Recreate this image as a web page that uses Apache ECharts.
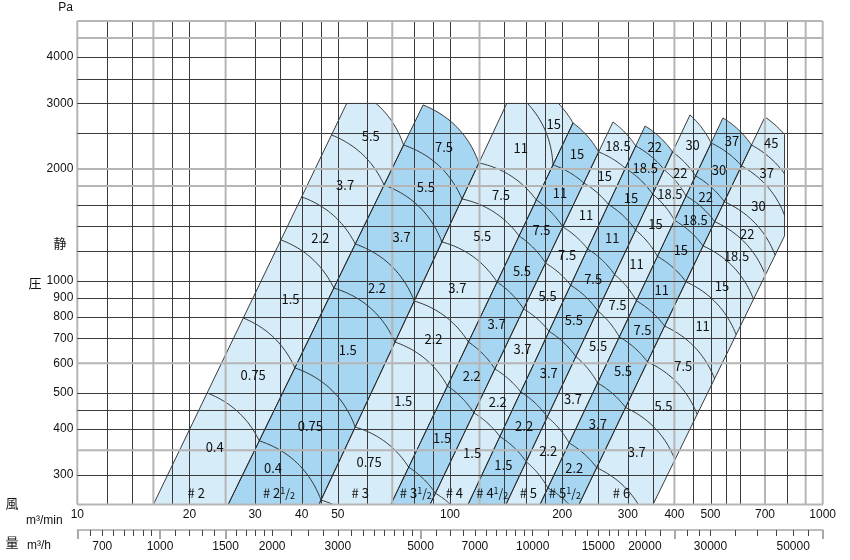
<!DOCTYPE html>
<html>
<head>
<meta charset="utf-8">
<script src="https://cdn.jsdelivr.net/npm/echarts@6.0.0/dist/echarts.min.js"></script>
<style>
html,body{margin:0;padding:0;background:#ffffff;}
#chart{width:850px;height:560px;}
</style>
</head>
<body>
<div id="chart"></div>
<script>
// ---------------- chart values ----------------
const flowLabels = [10, 20, 30, 40, 50, 100, 200, 300, 400, 500, 700, 1000];          // m3/min
const pressureLabels = [300, 400, 500, 600, 700, 800, 900, 1000, 2000, 3000, 4000];   // Pa
const hourLabels = [700, 1000, 1500, 2000, 3000, 5000, 7000, 10000, 15000, 20000, 30000, 50000]; // m3/h
const hourMinorTicks = [650,700,750,800,850,900,950,1100,1200,1300,1400,1600,1700,1800,1900,2000,
  2250,2500,2750,3000,3250,3500,3750,4000,4250,4500,4750,5500,6000,6500,7000,7500,8000,8500,9000,9500,
  10000,11000,12000,13000,14000,15000,16000,17000,18000,19000,20000,22000,26000,28000,30000,
  35000,40000,45000,50000,55000];
const hourMajorTicks = [600, 1000, 1500, 5000, 24000, 60000];
const gridFlow = [10,12,14,16,18,20,25,30,35,40,45,50,60,70,80,90,100,120,140,160,180,200,250,300,350,400,450,500,550,600,700,800,900,1000];
const gridFlowGray = [10,16,25,70,120,400,700,900,1000];
const gridPressure = [250,300,350,400,450,500,600,700,800,900,1000,1200,1400,1600,1800,2000,2500,3000,3500,4000,4500,5000];
const gridPressureGray = [250,350,600,1800,2000,4500,5000];

const fanNames = ['#2','#2½','#3','#3½','#4','#4½','#5','#5½','#6'];
const motorKW = [0.4,0.75,1.5,2.2,3.7,5.5,7.5,11,15,18.5,22,30,37,45];
const bandTopKW = [5.5,7.5,15,15,18.5,22,30,37,45];
const bandFirstKW = [0.4,0.4,0.75,1.5,1.5,1.5,2.2,2.2,3.7];

// slanted boundary lines between fan sizes: flow at 250 Pa and one upper point
const edgeBottomQ = [16.0,25.4,44.5,69.4,88.4,111.8,141.3,174.4,221.9,350.5];
const edgeTopQ = [52.9,84.7,142.2,213.8,273.7,333.7,440.6,540.1,700.1,792.2];
const edgeTopP = [3009,2972,3009,2657,2674,2608,2794,2743,2760,1328];

// pressure where each motor-kW boundary crosses each slanted line (index = motorKW)
const boundaryP = [
  [499,794,1288,1681,2468,3282],
  [371,583,956,1256,1810,2319,2972],
  [257,404,684,882,1272,1660,2075,3250,3492],
  [201,315,521,684,992,1320,1650,2050,2658],
  [null,268,441,579,840,1116,1396,1833,2221,2674],
  [null,231,381,502,731,973,1218,1605,2008,2305,2609],
  [null,null,326,430,625,831,1039,1369,1711,1990,2221,2793],
  [null,null,277,366,531,706,883,1163,1454,1691,1915,2348,2742],
  [null,null,239,314,456,605,755,994,1241,1442,1632,2038,2319,2759],
  [null,null,null,228,330,437,545,716,892,1036,1172,1387,1590,1755]
];
const pressureCap = 3000;
const flowCap = 790;

// ---------------- styles ----------------
const LIGHT = '#d6ecf9', DARK = '#a6d6f1', INK = '#262626';
const FONT_JP = '"Noto Sans CJK JP", "Noto Sans", sans-serif';
const FONT_AX = '"Liberation Sans", Arial, sans-serif';
const ARC_R = 90;
const P_MIN = 250;

// ---------------- geometry helpers (pixel space via api.coord) ----------------
function edgePt(api, k, P) {
  const lp0 = Math.log10(P_MIN), lp1 = Math.log10(edgeTopP[k]);
  const lq0 = Math.log10(edgeBottomQ[k]), lq1 = Math.log10(edgeTopQ[k]);
  const t = (Math.log10(P) - lp0) / (lp1 - lp0);
  return api.coord([Math.pow(10, lq0 + t * (lq1 - lq0)), P]);
}
function arcPts(A, B, n) {
  const dx = B[0] - A[0], dy = B[1] - A[1], L = Math.hypot(dx, dy);
  const h = 2 * (L * L / (8 * ARC_R));
  const nx = dy / L, ny = -dx / L;
  const C = [(A[0] + B[0]) / 2 + nx * h, (A[1] + B[1]) / 2 + ny * h];
  const pts = [];
  for (let i = 0; i <= n; i++) {
    const t = i / n, u = 1 - t;
    pts.push([u*u*A[0] + 2*u*t*C[0] + t*t*B[0], u*u*A[1] + 2*u*t*C[1] + t*t*B[1]]);
  }
  return pts;
}
function rectOf(api, floorP) {
  return {
    x1: api.coord([flowCap, 1000])[0],
    y0: api.coord([100, pressureCap])[1],
    y1: api.coord([100, floorP || P_MIN])[1]
  };
}
function planes(r) {
  return [
    {inside: p => p[0] <= r.x1, inter: (a, b) => { const t = (r.x1 - a[0]) / (b[0] - a[0]); return [r.x1, a[1] + t * (b[1] - a[1])]; }},
    {inside: p => p[1] >= r.y0, inter: (a, b) => { const t = (r.y0 - a[1]) / (b[1] - a[1]); return [a[0] + t * (b[0] - a[0]), r.y0]; }},
    {inside: p => p[1] <= r.y1, inter: (a, b) => { const t = (r.y1 - a[1]) / (b[1] - a[1]); return [a[0] + t * (b[0] - a[0]), r.y1]; }}
  ];
}
function clipPoly(pts, r) {
  let out = pts;
  for (const pl of planes(r)) {
    const inp = out; out = [];
    if (!inp.length) break;
    for (let i = 0; i < inp.length; i++) {
      const cur = inp[i], prev = inp[(i + inp.length - 1) % inp.length];
      const ci = pl.inside(cur), pi = pl.inside(prev);
      if (ci) { if (!pi) out.push(pl.inter(prev, cur)); out.push(cur); }
      else if (pi) out.push(pl.inter(prev, cur));
    }
  }
  return out;
}
function clipLine(pts, r) {
  let lines = [pts];
  for (const pl of planes(r)) {
    const next = [];
    for (const line of lines) {
      let cur = [];
      for (let i = 0; i < line.length; i++) {
        const p = line[i], ins = pl.inside(p);
        if (i === 0) { if (ins) cur.push(p); continue; }
        const q = line[i - 1], qi = pl.inside(q);
        if (ins && qi) cur.push(p);
        else if (ins && !qi) cur = [pl.inter(q, p), p];
        else if (!ins && qi) { cur.push(pl.inter(q, p)); if (cur.length > 1) next.push(cur); cur = []; }
      }
      if (cur.length > 1) next.push(cur);
    }
    lines = next;
  }
  return lines;
}
function centroid(poly) {
  let a = 0, cx = 0, cy = 0;
  for (let i = 0; i < poly.length; i++) {
    const p = poly[i], q = poly[(i + 1) % poly.length];
    const c = p[0] * q[1] - q[0] * p[1];
    a += c; cx += (p[0] + q[0]) * c; cy += (p[1] + q[1]) * c;
  }
  a /= 2;
  if (Math.abs(a) < 20) return null;
  return {x: cx / (6 * a), y: cy / (6 * a)};
}
function bandChains(k) {
  const ti = motorKW.indexOf(bandTopKW[k]);
  const list = [];
  for (let j = 0; j < ti; j++) {
    const pl = boundaryP[k][j], pr = boundaryP[k + 1][j];
    if (pl != null && pr != null && pl >= P_MIN) list.push(j);
  }
  return {ti, list};
}
function chainArc(api, k, j) {
  return arcPts(edgePt(api, k, boundaryP[k][j]), edgePt(api, k + 1, boundaryP[k + 1][j]), 24);
}
function bandPolygon(api, k) {
  const {ti} = bandChains(k);
  const arc = chainArc(api, k, ti);
  return clipPoly([edgePt(api, k, 200)].concat(arc, [edgePt(api, k + 1, 200)]), rectOf(api));
}
function textEl(text, x, y, extra) {
  return {type: 'text', style: Object.assign({
    text: text, x: x, y: y, fill: '#111', fontSize: 13, fontFamily: FONT_JP,
    textAlign: 'center', textVerticalAlign: 'middle', align: 'center', verticalAlign: 'middle'
  }, extra || {})};
}

// ---------------- renderers ----------------
function renderFill(params, api) {
  const k = api.value(2);
  return {type: 'polygon', shape: {points: bandPolygon(api, k)},
    style: {fill: k % 2 === 0 ? LIGHT : DARK, stroke: null}};
}
function renderOutline(params, api) {
  const k = api.value(2);
  const r = rectOf(api);
  const children = [{type: 'polygon', shape: {points: bandPolygon(api, k)},
    style: {fill: null, stroke: INK, lineWidth: 0.9}}];
  const {list} = bandChains(k);
  list.forEach(j => {
    clipLine(chainArc(api, k, j), r).forEach(seg => {
      children.push({type: 'polyline', shape: {points: seg}, style: {fill: null, stroke: INK, lineWidth: 0.9}});
    });
  });
  return {type: 'group', children};
}
function renderLabels(params, api) {
  const k = api.value(2);
  const {ti, list} = bandChains(k);
  const f = motorKW.indexOf(bandFirstKW[k]);
  const r = rectOf(api, 285);
  const children = [];
  for (let j = f; j <= ti; j++) {
    const upper = chainArc(api, k, j);
    const lower = list.indexOf(j - 1) >= 0 ? chainArc(api, k, j - 1) : [edgePt(api, k, 200), edgePt(api, k + 1, 200)];
    const poly = clipPoly(lower.concat(upper.slice().reverse()), r);
    const c = poly.length > 2 ? centroid(poly) : null;
    if (c) children.push(textEl(String(motorKW[j]), c.x, c.y));
  }
  const a = edgePt(api, k, 268), b = edgePt(api, k + 1, 268);
  const t = fanNames[k].replace('#', '# ').replace('½', '{s|1}{m|/}{d|2}');
  children.push(textEl(t, (a[0] + b[0]) / 2, (a[1] + b[1]) / 2, {
    rich: {
      s: {fontSize: 9, fontFamily: FONT_JP, fill: '#111', padding: [0, 0, 5, 0]},
      m: {fontSize: 12, fontFamily: FONT_JP, fill: '#111'},
      d: {fontSize: 9, fontFamily: FONT_JP, fill: '#111', padding: [5, 0, 0, 0]}
    }
  }));
  return {type: 'group', children};
}
function renderGridV(params, api) {
  const q = api.value(0);
  const top = api.coord([q, 5000]), bot = api.coord([q, 250]);
  const gray = gridFlowGray.indexOf(q) >= 0;
  const x = gray ? top[0] : Math.round(top[0]) + 0.5;
  return {type: 'line', shape: {x1: x, y1: top[1], x2: x, y2: bot[1]},
    style: {stroke: gray ? '#b5b5b5' : '#3a3a3a', lineWidth: gray ? 2 : 1}};
}
function renderGridH(params, api) {
  const p = api.value(1);
  const l = api.coord([10, p]), rr = api.coord([1000, p]);
  const gray = gridPressureGray.indexOf(p) >= 0;
  const y = gray ? l[1] : Math.round(l[1]) + 0.5;
  return {type: 'line', shape: {x1: l[0], y1: y, x2: rr[0], y2: y},
    style: {stroke: gray ? '#b5b5b5' : '#3a3a3a', lineWidth: gray ? 2 : 1}};
}

const bandItems = fanNames.map((n, k) => [20, 1000, k]);

const option = {
  animation: false,
  backgroundColor: '#ffffff',
  grid: {left: 77.3, right: 27.3, top: 21, bottom: 55.5},
  xAxis: [
    {type: 'log', logBase: 10, min: 10, max: 1000,
      axisLine: {show: false}, axisTick: {show: false}, splitLine: {show: false},
      axisLabel: {customValues: flowLabels, formatter: v => String(Math.round(v)),
        color: '#111', fontSize: 12, fontFamily: FONT_AX, margin: 4}},
    {type: 'log', logBase: 10, min: 600, max: 60000, position: 'bottom', offset: 25.5,
      axisLine: {show: true, onZero: false, lineStyle: {color: '#a8a8a8', width: 1.5}},
      axisTick: {show: true, customValues: hourMinorTicks, length: 6, lineStyle: {color: '#444', width: 1}},
      splitLine: {show: false},
      axisLabel: {customValues: hourLabels, formatter: v => String(Math.round(v)),
        color: '#111', fontSize: 12, fontFamily: FONT_AX, margin: 11}},
    {type: 'log', logBase: 10, min: 600, max: 60000, position: 'bottom', offset: 25.5,
      axisLine: {show: false, onZero: false},
      axisTick: {show: true, customValues: hourMajorTicks, length: 9, lineStyle: {color: '#a8a8a8', width: 2}},
      splitLine: {show: false}, axisLabel: {show: false}}
  ],
  yAxis: [
    {type: 'log', logBase: 10, min: 250, max: 5000,
      axisLine: {show: false}, axisTick: {show: false}, splitLine: {show: false},
      axisLabel: {customValues: pressureLabels, formatter: v => String(Math.round(v)),
        color: '#111', fontSize: 12, fontFamily: FONT_AX, margin: 4, padding: [0, 0, 8, 0]}}
  ],
  series: [
    {type: 'custom', name: 'fans', z: 1, silent: true, encode: {x: 0, y: 1}, data: bandItems, renderItem: renderFill},
    {type: 'custom', name: 'kwLines', z: 2, silent: true, encode: {x: 0, y: 1}, data: bandItems, renderItem: renderOutline},
    {type: 'custom', name: 'gridV', z: 3, silent: true, encode: {x: 0, y: 1}, data: gridFlow.map(q => [q, 1000]), renderItem: renderGridV},
    {type: 'custom', name: 'gridH', z: 3, silent: true, encode: {x: 0, y: 1}, data: gridPressure.map(p => [20, p]), renderItem: renderGridH},
    {type: 'custom', name: 'labels', z: 4, silent: true, encode: {x: 0, y: 1}, data: bandItems, renderItem: renderLabels}
  ],
  graphic: [
    {type: 'text', x: 65.5, y: 8, style: {text: 'Pa', fill: '#111', font: '12px ' + FONT_AX, textAlign: 'center', textVerticalAlign: 'middle'}},
    {type: 'text', x: 60, y: 243, style: {text: '静', fill: '#111', font: '13px ' + FONT_JP, textAlign: 'center', textVerticalAlign: 'middle'}},
    {type: 'text', x: 35, y: 283, style: {text: '圧', fill: '#111', font: '13px ' + FONT_JP, textAlign: 'center', textVerticalAlign: 'middle'}},
    {type: 'text', x: 12, y: 503, style: {text: '風', fill: '#111', font: '13px ' + FONT_JP, textAlign: 'center', textVerticalAlign: 'middle'}},
    {type: 'text', x: 26, y: 521, style: {text: 'm³/min', fill: '#111', font: '12px ' + FONT_AX, textAlign: 'left', textVerticalAlign: 'middle'}},
    {type: 'text', x: 12, y: 542, style: {text: '量', fill: '#111', font: '13px ' + FONT_JP, textAlign: 'center', textVerticalAlign: 'middle'}},
    {type: 'text', x: 27, y: 546, style: {text: 'm³/h', fill: '#111', font: '12px ' + FONT_AX, textAlign: 'left', textVerticalAlign: 'middle'}}
  ]
};

const chart = echarts.init(document.getElementById('chart'), null, {renderer: 'canvas', width: 850, height: 560});
chart.setOption(option);
</script>
</body>
</html>
